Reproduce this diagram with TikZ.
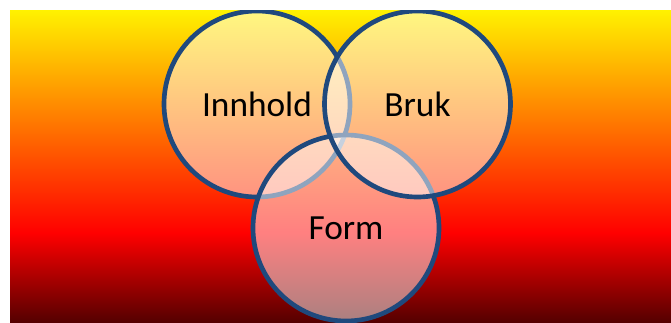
\documentclass[tikz,border=0pt]{standalone}
\usepackage{fontspec}
\setmainfont{Carlito}
\usepackage{tikz}
\usetikzlibrary{positioning}

\definecolor{ringblue}{RGB}{31,73,125}
\definecolor{sunyellow}{RGB}{255,242,0}
\definecolor{sunorange}{RGB}{255,162,0}
\definecolor{deepred}{RGB}{85,0,0}

\tikzset{
ring/.style={circle, draw=ringblue, line width=3.5pt, fill=white, fill opacity=0.5,
  text opacity=1, draw opacity=1, minimum size=139.5pt, inner sep=0pt,
  font=\fontsize{26.5}{31}\selectfont}
}

\begin{document}
\begin{tikzpicture}[x=0.75pt,y=-0.75pt]
\useasboundingbox (0,0) rectangle (671,322);
\begin{scope}
\clip (10,10) rectangle (671,322);
% background
\shade[top color=sunyellow, middle color=sunorange, bottom color=red] (10,10) rectangle (671,233);
\shade[top color=red, bottom color=deepred] (10,233) rectangle (671,322);
% rings
\node[ring] (innhold) at (257,104) {Innhold};
\node[ring] (form) at (346,228) {Form};
\node[ring] (bruk) at (417.5,104) {Bruk};
\end{scope}
\end{tikzpicture}
\end{document}
